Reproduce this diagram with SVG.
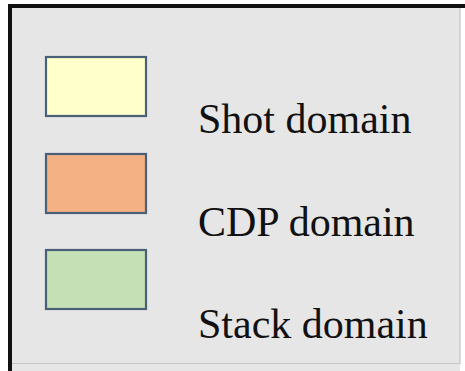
<svg xmlns="http://www.w3.org/2000/svg" width="465" height="371" viewBox="0 0 465 371">
<style>
.sw{stroke:#4a5f78;stroke-width:2.2}
.lbl{font-family:"Liberation Serif","Times New Roman",serif;font-size:42px;fill:#111}
</style>
<rect width="465" height="371" fill="#ffffff"/>
<g id="frame">
<rect x="10" y="6" width="450" height="365" fill="#e6e6e6"/>
<line x1="460" y1="6" x2="460" y2="364" stroke="#c4c4c4" stroke-width="1.2"/>
<line x1="10" y1="363.5" x2="460" y2="363.5" stroke="#c4c4c4" stroke-width="1.2"/>
<line x1="10" y1="6" x2="10" y2="371" stroke="#111" stroke-width="4"/>
<line x1="8" y1="6" x2="465" y2="6" stroke="#111" stroke-width="4"/>
</g>
<g id="shot">
<rect class="sw" x="46" y="57" width="100" height="59" fill="#ffffcc"/>
<text class="lbl" x="198" y="133">Shot domain</text>
</g>
<g id="cdp">
<rect class="sw" x="46" y="154" width="100" height="59" fill="#f4b183"/>
<text class="lbl" x="198" y="236">CDP domain</text>
</g>
<g id="stack">
<rect class="sw" x="46" y="250" width="100" height="59" fill="#c5e0b4"/>
<text class="lbl" x="198" y="338">Stack domain</text>
</g>
</svg>
